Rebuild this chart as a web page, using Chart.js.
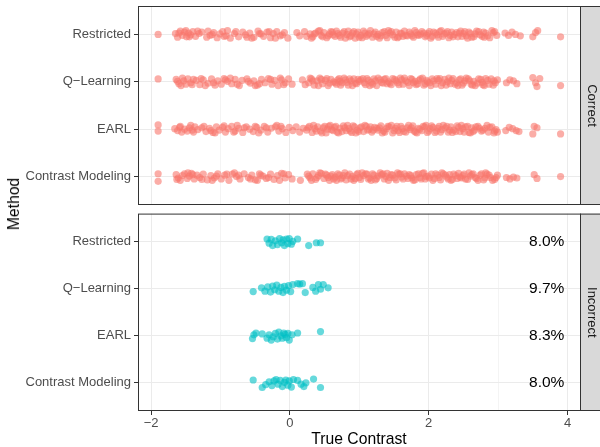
<!DOCTYPE html>
<html>
<head>
<meta charset="utf-8">
<script src="https://cdn.jsdelivr.net/npm/chart.js@4"></script>
<style>
  body { margin: 0; background: #fff; }
  #wrap { position: relative; width: 600px; height: 447px; overflow: hidden; }
  canvas { position: absolute; left: 0; }
  #ytitle { position: absolute; left: 14px; top: 204px; transform: translate(-50%, -50%) rotate(-90deg);
    font-family: "Liberation Sans", Arial, sans-serif; font-size: 15.7px; font-weight: normal; color: #000; white-space: nowrap; }
</style>
</head>
<body>
<div id="wrap">
  <canvas id="chartTop" width="600" height="210" style="top:0"></canvas>
  <canvas id="chartBottom" width="600" height="237" style="top:210px"></canvas>
  <div id="ytitle">Method</div>
</div>
<script>
const methods = ['Restricted', 'Q\u2212Learning', 'EARL', 'Contrast Modeling'];
const methodLevels = [4, 3, 2, 1];
const percentLabels = ['8.0%', '9.7%', '8.3%', '8.0%'];
const percentX = 3.7;
const xGrid = [-2, -1, 0, 1, 2, 3, 4];

// [true contrast, vertical jitter]
const restrictedCorrect = [
  [-1.90,0.00],[-1.65,0.02],[-1.62,-0.06],[-1.58,0.07],[-1.55,-0.02],[-1.52,0.05],[-1.49,-0.05],[-1.46,0.03],
  [-1.43,-0.01],[-1.40,0.06],[-1.36,-0.04],[-1.31,0.02],[-1.27,0.05],[-1.20,-0.06],[-1.15,-0.02],[-1.10,0.04],
  [-1.05,-0.07],[-1.01,0.01],[-0.97,0.06],[-0.92,-0.03],[-0.86,-0.08],[-0.80,0.02],[-0.74,-0.05],[-0.68,0.05],
  [-0.64,-0.01],[-0.58,0.03],[-0.52,-0.06],[-0.46,0.07],[-0.42,0.01],[-0.38,-0.04],[-0.33,0.05],[-0.28,-0.07],
  [-0.24,0.02],[-0.19,0.06],[-0.14,-0.03],[-0.08,0.04],[-0.03,-0.08],
  [0.10,0.04],[0.14,-0.03],[0.21,0.06],[0.29,0.01],[0.33,-0.05],[0.37,0.03],[0.41,0.07],[0.45,-0.02],
  [0.49,0.04],[0.53,-0.07],[0.57,0.01],[0.61,0.05],[0.65,-0.04],[0.69,0.02],[0.73,-0.06],[0.78,0.06],
  [0.82,0.00],[0.86,-0.05],[0.90,0.03],[0.94,-0.08],[0.98,0.05],[1.02,-0.02],[1.06,0.07],[1.10,-0.04],
  [1.14,0.02],[1.19,-0.06],[1.23,0.05],[1.27,0.00],[1.31,-0.03],[1.36,0.06],[1.40,-0.07],[1.44,0.03],
  [1.48,-0.01],[1.53,0.05],[1.57,-0.05],[1.61,0.02],[1.65,0.07],[1.69,-0.03],[1.74,0.01],[1.78,-0.06],
  [1.82,0.04],[1.86,-0.02],[1.90,0.06],[1.95,-0.05],[1.99,0.02],[2.03,-0.08],[2.07,0.05],
  [2.12,-0.01],[2.16,0.06],[2.20,-0.04],[2.25,0.03],[2.29,-0.07],[2.33,0.05],[2.37,0.00],[2.42,-0.05],
  [2.46,0.07],[2.50,0.02],[2.54,-0.03],[2.58,0.05],[2.62,-0.06],[2.67,0.01],[2.72,0.06],[2.77,-0.04],
  [2.82,0.03],[2.88,-0.07],[2.93,0.04],[2.98,-0.02],
  [3.10,0.03],[3.15,-0.02],[3.20,0.05],[3.25,0.00],[3.32,-0.03],[3.50,-0.05],[3.54,0.04],[3.57,0.08],[3.90,-0.05],
  [0.31,-0.08],[0.43,0.08],[0.55,-0.03],[0.67,0.07],[0.80,-0.08],[0.92,0.06],[1.04,-0.07],[1.16,0.08],
  [1.29,-0.08],[1.42,0.08],[1.55,-0.07],[1.67,-0.02],[1.80,0.08],[1.93,0.03],[2.05,-0.04],[2.18,0.08],
  [2.31,-0.02],[2.44,0.03],[2.56,-0.08],[2.69,0.07],[2.80,-0.06],[2.91,0.08],[-1.50,0.08],[-1.18,0.07],
  [-0.90,0.08],[-0.55,-0.08],[-0.21,-0.08],[0.62,-0.01],[1.21,0.01],[1.84,-0.01],
  [0.24,-0.04],[0.35,0.01],[0.47,-0.05],[0.59,0.06],[0.71,-0.02],[0.76,0.03],[0.84,0.07],[0.88,-0.03],
  [0.96,0.01],[1.00,-0.06],[1.08,0.03],[1.12,-0.01],[1.25,-0.04],[1.33,0.04],[1.38,-0.02],[1.46,0.06],
  [1.51,-0.06],[1.59,0.03],[1.63,-0.04],[1.72,0.05],[1.76,-0.03],[1.88,0.01],[1.97,-0.02],[2.01,0.06],
  [2.10,0.03],[2.14,-0.06],[2.22,0.01],[2.27,0.06],[2.35,-0.05],[2.40,0.04],[2.48,-0.04],[2.52,0.06],
  [2.60,0.02],[2.65,-0.05],[2.74,-0.01],[2.79,0.05],[2.85,-0.03],[2.95,0.06],[-1.60,0.03],[-1.45,-0.05],
  [-1.33,0.07],[-1.12,0.00],[-0.95,-0.04],[-0.78,0.06],[-0.62,-0.06],[-0.44,0.02],[-0.30,0.06],[-0.11,-0.01]
];
const qLearningCorrect = [
  [-1.90,0.06],[-1.64,0.05],[-1.60,-0.04],[-1.57,-0.08],[-1.53,0.02],[-1.50,-0.05],[-1.47,0.06],[-1.43,-0.02],
  [-1.39,0.05],[-1.35,0.03],[-1.30,-0.06],[-1.25,0.04],[-1.18,-0.03],[-1.13,0.06],[-1.08,-0.07],[-1.04,0.02],
  [-0.99,-0.05],[-0.95,0.07],[-0.90,0.01],[-0.84,-0.04],[-0.79,0.05],[-0.73,-0.08],[-0.69,0.03],[-0.62,0.06],
  [-0.57,-0.03],[-0.52,0.02],[-0.47,-0.07],[-0.41,0.05],[-0.36,-0.02],[-0.31,0.07],[-0.26,-0.05],[-0.22,0.03],
  [-0.17,-0.08],[-0.12,0.04],[-0.07,-0.02],[-0.02,0.06],
  [0.03,-0.05],[0.18,0.04],[0.27,-0.02],[0.31,0.06],[0.35,-0.07],[0.39,0.02],[0.43,0.08],[0.47,-0.04],
  [0.51,0.03],[0.55,-0.08],[0.59,0.05],[0.63,0.00],[0.67,-0.05],[0.71,0.07],[0.75,-0.02],[0.80,0.04],
  [0.84,-0.07],[0.88,0.02],[0.92,0.06],[0.96,-0.04],[1.00,0.01],[1.05,0.07],[1.09,-0.06],[1.13,0.03],
  [1.17,-0.01],[1.21,0.06],[1.25,-0.08],[1.30,0.04],[1.34,-0.03],[1.38,0.07],[1.42,0.00],[1.46,-0.06],
  [1.51,0.05],[1.55,-0.02],[1.59,0.08],[1.63,-0.05],[1.67,0.02],[1.72,-0.08],[1.76,0.05],[1.80,0.01],
  [1.84,-0.04],[1.88,0.06],[1.93,-0.07],[1.97,0.03],[2.01,-0.02],[2.05,0.06],
  [2.10,-0.05],[2.14,0.03],[2.18,-0.08],[2.23,0.05],[2.27,0.00],[2.31,-0.04],[2.35,0.07],[2.40,-0.02],
  [2.44,0.04],[2.48,-0.07],[2.52,0.02],[2.57,0.06],[2.61,-0.05],[2.65,0.01],[2.70,-0.03],[2.75,0.05],
  [2.78,-0.06],[2.80,-0.08],[2.85,0.03],[2.90,0.06],[2.96,-0.02],[2.99,0.04],
  [3.12,-0.02],[3.17,0.04],[3.22,0.02],[3.27,-0.04],[3.50,0.09],[3.54,-0.02],[3.56,-0.10],[3.60,0.07],[3.90,-0.08],
  [0.29,0.08],[0.41,-0.08],[0.53,0.07],[0.65,-0.02],[0.78,0.08],[0.90,-0.08],[1.02,0.04],[1.15,-0.08],
  [1.27,0.08],[1.40,-0.04],[1.53,0.02],[1.65,0.08],[1.78,-0.02],[1.91,0.08],[2.03,-0.08],[2.16,0.07],
  [2.29,0.08],[2.42,-0.08],[2.54,0.08],[2.67,-0.08],[2.82,0.07],[2.93,-0.07],[-1.55,0.08],[-1.22,-0.08],
  [-0.86,0.08],[-0.50,-0.08],[-0.14,0.08],[0.72,0.01],[1.32,-0.01],[1.98,0.00],
  [0.22,-0.06],[0.33,0.02],[0.45,0.05],[0.57,-0.03],[0.69,0.04],[0.73,-0.07],[0.82,-0.01],[0.86,0.06],
  [0.94,-0.03],[0.98,0.05],[1.07,-0.02],[1.11,0.07],[1.19,-0.05],[1.23,0.02],[1.36,0.05],[1.44,-0.03],
  [1.48,0.07],[1.57,-0.06],[1.61,0.04],[1.70,-0.01],[1.74,0.07],[1.82,-0.06],[1.86,0.03],[1.95,-0.04],
  [2.07,0.02],[2.12,0.07],[2.20,-0.02],[2.25,-0.07],[2.33,0.03],[2.38,-0.05],[2.46,0.06],[2.50,-0.03],
  [2.59,0.02],[2.63,-0.07],[2.72,0.06],[2.77,-0.01],[2.87,-0.05],[2.94,0.02],[-1.62,0.01],[-1.41,-0.06],
  [-1.28,0.07],[-1.10,-0.02],[-0.93,0.04],[-0.76,-0.05],[-0.60,0.01],[-0.44,-0.04],[-0.28,0.05],[-0.09,-0.06]
];
const earlCorrect = [
  [-1.90,0.09],[-1.90,-0.04],[-1.66,0.01],[-1.62,-0.03],[-1.59,0.04],[-1.56,-0.06],[-1.52,0.00],[-1.48,-0.04],
  [-1.45,0.03],[-1.41,-0.02],[-1.37,0.05],[-1.33,-0.01],[-1.27,0.03],[-1.21,-0.05],[-1.16,0.02],[-1.11,-0.07],
  [-1.06,0.05],[-1.02,-0.02],[-0.97,0.04],[-0.93,-0.06],[-0.89,0.01],[-0.84,0.06],[-0.79,-0.04],[-0.74,0.02],
  [-0.68,-0.07],[-0.63,0.05],[-0.58,0.00],[-0.53,-0.05],[-0.48,0.04],[-0.42,-0.02],[-0.37,0.06],[-0.32,-0.06],
  [-0.27,0.02],[-0.21,0.05],[-0.16,-0.04],[-0.11,0.01],[-0.06,-0.07],[-0.01,0.04],
  [0.04,-0.03],[0.09,0.05],[0.14,-0.06],[0.19,0.02],[0.24,-0.02],[0.28,0.06],[0.32,-0.07],[0.36,0.01],
  [0.40,0.05],[0.44,-0.04],[0.48,0.03],[0.52,-0.08],[0.56,0.06],[0.60,-0.01],[0.64,0.04],[0.68,-0.06],
  [0.72,0.02],[0.77,0.07],[0.81,-0.03],[0.85,0.01],[0.89,-0.07],[0.93,0.05],[0.97,-0.02],[1.01,0.03],
  [1.06,-0.05],[1.10,0.06],[1.14,0.00],[1.18,-0.06],[1.22,0.04],[1.27,-0.02],[1.31,0.07],[1.35,-0.04],
  [1.39,0.01],[1.43,0.05],[1.48,-0.08],[1.52,0.02],[1.56,-0.03],[1.60,0.06],[1.64,-0.05],[1.69,0.03],
  [1.73,-0.01],[1.77,0.07],[1.81,-0.06],[1.85,0.02],[1.90,-0.03],[1.94,0.05],[1.98,-0.07],[2.02,0.01],[2.06,0.04],
  [2.11,-0.04],[2.15,0.06],[2.19,-0.01],[2.24,0.03],[2.28,-0.06],[2.32,0.05],[2.36,-0.02],[2.41,0.07],
  [2.45,-0.05],[2.49,0.01],[2.53,0.05],[2.58,-0.07],[2.62,0.03],[2.66,-0.02],[2.71,0.06],[2.76,-0.04],
  [2.81,0.02],[2.86,-0.06],[2.91,0.05],[2.97,-0.01],[2.99,-0.06],
  [3.11,-0.03],[3.16,0.04],[3.21,0.01],[3.26,-0.03],[3.30,-0.05],[3.50,-0.10],[3.52,0.06],[3.56,0.03],[3.90,-0.10],
  [0.34,0.08],[0.46,-0.08],[0.58,0.08],[0.70,-0.08],[0.83,0.08],[0.95,-0.08],[1.08,0.08],[1.20,-0.02],
  [1.33,-0.08],[1.46,0.08],[1.58,-0.07],[1.71,0.08],[1.83,-0.08],[1.96,0.08],[2.09,-0.07],[2.21,0.08],
  [2.34,-0.07],[2.47,0.08],[2.60,-0.08],[2.73,0.02],[2.84,0.08],[2.94,-0.08],[-1.43,0.08],[-1.08,-0.08],
  [-0.76,0.08],[-0.45,-0.08],[-0.19,0.08],[0.54,0.00],[1.25,0.02],[1.87,0.00],
  [0.26,0.03],[0.38,-0.04],[0.50,0.06],[0.62,-0.03],[0.66,0.06],[0.75,-0.05],[0.79,0.03],[0.87,-0.04],
  [0.91,0.07],[0.99,-0.05],[1.03,0.05],[1.12,-0.02],[1.16,0.05],[1.29,0.03],[1.37,-0.06],[1.41,0.06],
  [1.50,-0.03],[1.54,0.06],[1.62,0.01],[1.67,-0.06],[1.75,0.03],[1.79,-0.04],[1.92,0.06],[2.00,-0.04],
  [2.04,0.07],[2.13,0.02],[2.17,-0.06],[2.26,0.06],[2.30,-0.02],[2.39,-0.05],[2.43,0.04],[2.51,-0.06],
  [2.56,0.06],[2.64,-0.05],[2.68,0.05],[2.78,-0.02],[2.88,0.04],[2.95,-0.04],[-1.58,0.06],[-1.39,-0.06],
  [-1.24,0.06],[-1.14,-0.03],[-0.95,0.07],[-0.81,-0.06],[-0.66,0.03],[-0.50,0.06],[-0.34,0.03],[-0.13,0.06]
];
const contrastCorrect = [
  [-1.90,0.06],[-1.90,-0.10],[-1.64,0.04],[-1.61,-0.03],[-1.58,-0.08],[-1.55,0.02],[-1.52,0.06],[-1.48,-0.04],
  [-1.45,0.01],[-1.42,0.07],[-1.38,-0.05],[-1.34,0.03],[-1.30,-0.02],[-1.25,0.05],[-1.19,-0.07],[-1.14,0.02],
  [-1.09,-0.03],[-1.04,0.06],[-0.99,-0.05],[-0.94,0.03],[-0.88,-0.08],[-0.83,0.05],[-0.77,0.00],[-0.72,-0.05],
  [-0.66,0.06],[-0.60,-0.02],[-0.55,0.03],[-0.50,-0.07],[-0.44,0.06],[-0.39,0.01],[-0.34,-0.04],[-0.28,0.05],
  [-0.23,-0.06],[-0.18,0.02],[-0.12,0.07],[-0.07,-0.03],[-0.02,0.04],
  [0.03,-0.05],[0.15,-0.08],[0.25,0.05],[0.29,-0.03],[0.33,0.06],[0.37,-0.06],[0.41,0.02],[0.45,0.07],
  [0.49,-0.04],[0.53,0.03],[0.57,-0.08],[0.61,0.04],[0.65,-0.01],[0.69,0.06],[0.73,-0.05],[0.77,0.02],
  [0.81,-0.07],[0.86,0.05],[0.90,0.00],[0.94,-0.04],[0.98,0.07],[1.02,-0.06],[1.06,0.02],[1.11,0.05],
  [1.15,-0.03],[1.19,0.06],[1.23,-0.07],[1.27,0.01],[1.32,0.04],[1.36,-0.05],[1.40,0.07],[1.44,-0.02],
  [1.48,0.03],[1.53,-0.07],[1.57,0.05],[1.61,-0.01],[1.65,0.06],[1.70,-0.04],[1.74,0.02],[1.78,-0.08],
  [1.82,0.04],[1.87,-0.02],[1.91,0.07],[1.95,-0.05],[1.99,0.01],[2.04,0.05],
  [2.08,-0.04],[2.13,0.03],[2.17,-0.07],[2.21,0.06],[2.26,-0.01],[2.30,0.04],[2.34,-0.06],[2.39,0.02],
  [2.43,0.07],[2.47,-0.03],[2.51,0.05],[2.56,-0.06],[2.60,0.01],[2.64,0.06],[2.69,-0.04],[2.74,0.03],
  [2.79,-0.07],[2.84,0.05],[2.89,-0.02],[2.95,-0.06],[2.99,0.03],
  [3.12,-0.02],[3.17,-0.05],[3.22,-0.01],[3.27,-0.03],[3.52,0.04],[3.56,-0.04],[3.90,0.00],
  [0.31,-0.08],[0.43,0.08],[0.55,-0.02],[0.67,-0.08],[0.79,0.08],[0.92,-0.08],[1.04,0.08],[1.17,-0.08],
  [1.30,0.08],[1.42,-0.08],[1.55,0.08],[1.68,0.01],[1.80,-0.07],[1.93,0.08],[2.06,-0.08],[2.19,0.08],
  [2.32,-0.08],[2.45,-0.01],[2.58,0.08],[2.71,-0.08],[2.82,0.08],[2.92,-0.08],[-1.47,0.08],[-1.12,-0.08],
  [-0.80,0.08],[-0.47,-0.08],[-0.15,-0.08],[0.59,0.01],[1.38,0.00],[1.96,0.00],
  [0.27,0.01],[0.39,-0.02],[0.51,0.05],[0.63,-0.05],[0.71,0.03],[0.75,-0.03],[0.83,0.02],[0.88,-0.05],
  [0.96,0.04],[1.00,-0.02],[1.09,0.06],[1.13,-0.05],[1.21,0.03],[1.25,-0.04],[1.34,0.06],[1.46,0.04],
  [1.51,-0.03],[1.59,0.06],[1.63,-0.05],[1.72,0.04],[1.76,-0.03],[1.85,0.06],[1.89,-0.05],[2.01,-0.03],
  [2.10,0.06],[2.15,-0.02],[2.24,0.03],[2.28,-0.05],[2.36,0.05],[2.41,-0.04],[2.49,0.02],[2.53,-0.05],
  [2.62,0.04],[2.67,-0.02],[2.76,0.06],[2.81,-0.03],[2.87,0.03],[2.97,-0.02],[-1.63,-0.06],[-1.40,0.04],
  [-1.27,-0.06],[-1.06,0.01],[-0.91,0.05],[-0.74,0.03],[-0.57,-0.05],[-0.42,0.03],[-0.31,-0.02],[-0.09,0.06]
];

const restrictedIncorrect = [
  [-0.33,0.06],[-0.30,-0.03],[-0.27,0.05],[-0.25,-0.08],[-0.21,0.02],[-0.18,-0.06],[-0.15,0.07],[-0.12,-0.02],
  [-0.10,0.04],[-0.08,-0.08],[-0.05,0.06],[-0.03,-0.04],[-0.01,0.07],[0.02,-0.05],[0.04,0.01],[0.11,0.06],
  [0.27,-0.08],[0.38,-0.02],[0.44,-0.02]
];
const qLearningIncorrect = [
  [-0.53,-0.06],[-0.41,0.02],[-0.36,-0.05],[-0.32,0.04],[-0.28,-0.07],[-0.25,0.06],[-0.22,-0.02],[-0.19,0.08],
  [-0.16,-0.05],[-0.13,0.03],[-0.10,-0.08],[-0.08,0.05],[-0.05,-0.03],[-0.02,0.07],[0.01,-0.06],[0.04,0.09],
  [0.11,0.11],[0.14,0.10],[0.18,0.11],[0.22,-0.08],[0.33,0.03],[0.37,-0.05],[0.41,0.09],[0.44,-0.01],
  [0.48,0.09],[0.55,0.02]
];
const earlIncorrect = [
  [-0.54,-0.06],[-0.52,0.02],[-0.49,0.06],[-0.40,0.04],[-0.33,-0.05],[-0.30,0.02],[-0.27,-0.09],[-0.24,-0.02],
  [-0.21,0.05],[-0.18,-0.07],[-0.16,0.08],[-0.13,0.00],[-0.11,-0.05],[-0.09,0.06],[-0.07,0.03],[-0.05,-0.04],
  [-0.03,0.05],[-0.01,-0.09],[0.03,0.02],[0.11,0.06],[0.44,0.09]
];
const contrastIncorrect = [
  [-0.53,0.06],[-0.40,-0.10],[-0.35,-0.04],[-0.30,0.02],[-0.26,-0.06],[-0.23,0.04],[-0.20,0.07],[-0.17,-0.03],
  [-0.14,0.05],[-0.11,-0.08],[-0.08,0.01],[-0.06,0.06],[-0.03,-0.05],[-0.01,0.04],[0.02,-0.09],[0.05,0.07],
  [0.11,0.05],[0.16,-0.03],[0.20,-0.08],[0.23,0.00],[0.34,0.08],[0.44,-0.10]
];

const FONT = '"Liberation Sans", Arial, sans-serif';
const fmt = v => (v < 0 ? '\u2212' + Math.abs(v) : String(v));

function toPoints(rows, level) {
  return rows.map(([x, dy]) => ({ x: x, y: level + dy }));
}

function makeDatasets(groups, color) {
  return groups.map((rows, i) => ({
    label: methods[i],
    data: toPoints(rows, methodLevels[i]),
    backgroundColor: color,
    borderWidth: 0,
    pointRadius: 3.6,
    pointHoverRadius: 3.6
  }));
}

function yAxis() {
  return {
    type: 'linear', min: 0.4, max: 4.6,
    afterBuildTicks: s => { s.ticks = [1, 2, 3, 4].map(v => ({ value: v })); },
    afterFit: s => { s.width = 138; s.paddingTop = 0; s.paddingBottom = 0; },
    ticks: {
      callback: v => methods[methodLevels.indexOf(v)],
      color: '#4D4D4D', font: { family: FONT, size: 13 }, padding: 3
    },
    grid: { color: '#EBEBEB', lineWidth: 1, tickColor: '#333333', tickLength: 4, tickWidth: 1 },
    border: { display: false }
  };
}

function xAxis(showLabels) {
  return {
    type: 'linear', min: -2.19, max: 4.18,
    afterBuildTicks: s => { s.ticks = xGrid.map(v => ({ value: v })); },
    afterFit: s => {
      s.height = showLabels ? 36 : 0;
      s.paddingLeft = 0; s.paddingRight = 0;
    },
    ticks: {
      display: showLabels, autoSkip: false, maxRotation: 0, padding: 1,
      callback: v => (v % 2 === 0 ? fmt(v) : ''),
      color: '#4D4D4D', font: { family: FONT, size: 13 }
    },
    grid: {
      color: '#EBEBEB',
      lineWidth: c => (c.tick && c.tick.value % 2 !== 0 ? 0.55 : 1),
      tickColor: c => (c.tick && c.tick.value % 2 !== 0 ? 'rgba(0,0,0,0)' : '#333333'),
      drawTicks: showLabels, tickLength: 4, tickWidth: 1
    },
    border: { display: false },
    title: {
      display: showLabels, text: 'True Contrast', color: '#000000',
      font: { family: FONT, size: 15.7 }, padding: { top: 0, bottom: -2 }
    }
  };
}

// panel border plus the grey facet strip on the right
function facetStrip(label) {
  return {
    id: 'facetStrip',
    afterDraw(chart) {
      const { ctx, chartArea: a } = chart;
      ctx.save();
      ctx.fillStyle = '#D9D9D9';
      ctx.fillRect(a.right, a.top, chart.width - a.right + 5, a.bottom - a.top);
      ctx.strokeStyle = '#333333';
      ctx.lineWidth = 1;
      ctx.strokeRect(a.right + 0.5, a.top + 0.5, chart.width - a.right + 5, a.bottom - a.top - 1);
      ctx.strokeRect(a.left + 0.5, a.top + 0.5, a.right - a.left, a.bottom - a.top - 1);
      ctx.translate(a.right + 11.5, (a.top + a.bottom) / 2);
      ctx.rotate(Math.PI / 2);
      ctx.fillStyle = '#1A1A1A';
      ctx.font = '13px ' + FONT;
      ctx.textAlign = 'center';
      ctx.textBaseline = 'middle';
      ctx.fillText(label, 0, 0);
      ctx.restore();
    }
  };
}

const percentText = {
  id: 'percentText',
  afterDatasetsDraw(chart) {
    const { ctx, scales } = chart;
    ctx.save();
    ctx.fillStyle = '#000000';
    ctx.font = '15.5px ' + FONT;
    ctx.textAlign = 'center';
    ctx.textBaseline = 'middle';
    percentLabels.forEach((t, i) => {
      ctx.fillText(t, scales.x.getPixelForValue(percentX), scales.y.getPixelForValue(methodLevels[i]));
    });
    ctx.restore();
  }
};

function baseOptions(showX, padding) {
  return {
    responsive: false,
    animation: false,
    devicePixelRatio: 1,
    layout: { padding: padding },
    plugins: { legend: { display: false }, tooltip: { enabled: false } },
    scales: { x: xAxis(showX), y: yAxis() }
  };
}

new Chart(document.getElementById('chartTop').getContext('2d'), {
  type: 'scatter',
  data: {
    datasets: makeDatasets([restrictedCorrect, qLearningCorrect, earlCorrect, contrastCorrect],
      'rgba(248,118,109,0.6)')
  },
  options: baseOptions(false, { left: 0, right: 20, top: 6, bottom: 5 }),
  plugins: [facetStrip('Correct')]
});

new Chart(document.getElementById('chartBottom').getContext('2d'), {
  type: 'scatter',
  data: {
    datasets: makeDatasets([restrictedIncorrect, qLearningIncorrect, earlIncorrect, contrastIncorrect],
      'rgba(0,191,196,0.6)')
  },
  options: baseOptions(true, { left: 0, right: 20, top: 3, bottom: 0 }),
  plugins: [facetStrip('Incorrect'), percentText]
});
</script>
</body>
</html>
